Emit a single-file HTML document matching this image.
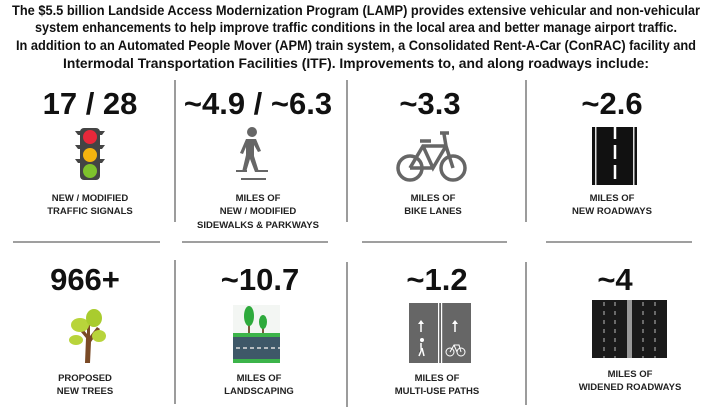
<!DOCTYPE html>
<html><head><meta charset="utf-8"><style>
html,body{margin:0;padding:0;background:#fff;width:710px;height:412px;overflow:hidden}
svg{display:block}
.h{font:bold 13.5px "Liberation Sans",sans-serif;fill:#111}
.n{font:bold 31px "Liberation Sans",sans-serif;fill:#111;text-anchor:middle}
.l{font:bold 9.5px "Liberation Sans",sans-serif;fill:#222;text-anchor:middle}
</style></head><body>
<svg width="710" height="412" viewBox="0 0 710 412">
<g class="h" text-anchor="middle">
<text x="356" y="15" textLength="688" lengthAdjust="spacingAndGlyphs">The $5.5 billion Landside Access Modernization Program (LAMP) provides extensive vehicular and non-vehicular</text>
<text x="356" y="32" textLength="642" lengthAdjust="spacingAndGlyphs">system enhancements to help improve traffic conditions in the local area and better manage airport traffic.</text>
<text x="356" y="50" textLength="680" lengthAdjust="spacingAndGlyphs">In addition to an Automated People Mover (APM) train system, a Consolidated Rent-A-Car (ConRAC) facility and</text>
<text x="356" y="68" textLength="586" lengthAdjust="spacingAndGlyphs">Intermodal Transportation Facilities (ITF). Improvements to, and along roadways include:</text>
</g>
<g stroke="#666" stroke-width="1.3">
<line x1="175" y1="80" x2="175" y2="222"/><line x1="347" y1="80" x2="347" y2="222"/><line x1="526" y1="80" x2="526" y2="222"/>
<line x1="175" y1="260" x2="175" y2="404"/><line x1="347" y1="262" x2="347" y2="407"/><line x1="526" y1="262" x2="526" y2="405"/>
<line x1="13" y1="242" x2="160" y2="242"/><line x1="182" y1="242" x2="328" y2="242"/><line x1="362" y1="242" x2="507" y2="242"/><line x1="546" y1="242" x2="692" y2="242"/>
</g>
<text class="n" x="90" y="114">17 / 28</text>
<text class="n" x="258" y="114">~4.9 / ~6.3</text>
<text class="n" x="430" y="114">~3.3</text>
<text class="n" x="612" y="114">~2.6</text>
<text class="n" x="85" y="290">966+</text>
<text class="n" x="260" y="290">~10.7</text>
<text class="n" x="437" y="290">~1.2</text>
<text class="n" x="615" y="290">~4</text>
<!-- traffic light -->
<g>
<path d="M75 131h30l-3 4h-24z M75 145h30l-3 4h-24z M75 159h30l-3 4h-24z" fill="#444"/>
<rect x="80" y="128" width="20" height="52" rx="4" fill="#444"/>
<circle cx="90" cy="137" r="7" fill="#e8283a"/><circle cx="90" cy="155" r="7" fill="#f5b40f"/><circle cx="90" cy="171" r="7" fill="#7ec22c"/></g>
<!-- pedestrian -->
<g fill="#666"><circle cx="252" cy="132" r="5"/>
<path d="M246 139h10l5 12-3 1-4-7 0 11 5 16h-4l-5-13-4 13h-4l4-17v-8l-3 7-3-1z"/>
<rect x="236" y="170" width="11" height="2"/><rect x="257" y="170" width="11" height="2"/><rect x="241" y="178" width="25" height="2"/></g>
<!-- bike -->
<g stroke="#666" stroke-width="3.5" fill="none"><circle cx="410" cy="168" r="12"/><circle cx="453" cy="168" r="12"/>
<path d="M410 168l13-22h23l7 22M423 146l10 22 13-22M433 168h-23M420 141h11M444 134l2 12M440 133h9"/></g>
<!-- road -->
<g><rect x="592" y="127" width="45" height="58" fill="#111"/>
<rect x="595" y="127" width="1.5" height="58" fill="#ddd"/><rect x="633" y="127" width="1.5" height="58" fill="#ddd"/>
<path d="M615 127v12M615 145v14M615 165v14" stroke="#fff" stroke-width="2.5"/></g>
<!-- tree -->
<g><path d="M85 363l1-25-10-12 3-2 8 10 0-10 3 0 0 12 7-9 3 2-9 13-1 21z" fill="#7a4a26"/>
<ellipse cx="80" cy="325" rx="9" ry="7" fill="#b8d43b"/><ellipse cx="94" cy="318" rx="8" ry="9" fill="#a9cc2e"/>
<ellipse cx="76" cy="340" rx="7" ry="5" fill="#b8d43b"/><ellipse cx="99" cy="336" rx="7" ry="6" fill="#b8d43b"/></g>
<!-- landscaping -->
<g><rect x="233" y="305" width="47" height="28" fill="#f3f6f3"/>
<rect x="248" y="315" width="2" height="20" fill="#7a5a3a"/><rect x="262" y="322" width="2" height="13" fill="#7a5a3a"/>
<ellipse cx="249" cy="316" rx="5" ry="10" fill="#2eaa3c"/><ellipse cx="263" cy="322" rx="4" ry="7" fill="#2eaa3c"/>
<rect x="233" y="333" width="47" height="4" fill="#3cb44a"/><rect x="233" y="337" width="47" height="22" fill="#3e5868"/>
<path d="M236 348h44" stroke="#ddd" stroke-width="1.5" stroke-dasharray="4 3"/><rect x="233" y="359" width="47" height="4" fill="#3cb44a"/></g>
<!-- multi-use -->
<g><rect x="409" y="303" width="62" height="60" fill="#666"/>
<rect x="438" y="303" width="1.2" height="60" fill="#fff"/><rect x="441" y="303" width="1.2" height="60" fill="#fff"/>
<path d="M421 332v-10M455 332v-10" stroke="#fff" stroke-width="1.5"/><path d="M418 324l3-4 3 4zM452 324l3-4 3 4z" fill="#fff"/>
<circle cx="422" cy="340" r="2" fill="#fff"/><path d="M421 343v8l-2 5M422 348l2 8" stroke="#fff" stroke-width="1.5"/>
<g stroke="#fff" stroke-width="1" fill="none"><circle cx="450" cy="352" r="4"/><circle cx="461" cy="352" r="4"/><path d="M450 352l4-7h5l2 7M454 345l3 7"/></g></g>
<!-- widened -->
<g><rect x="592" y="300" width="75" height="58" fill="#1a1a1a"/>
<rect x="627" y="300" width="5" height="58" fill="#999"/>
<g stroke="#bbb" stroke-width="1" stroke-dasharray="4 5"><path d="M604 302v56M615 302v56M643 302v56M655 302v56"/></g></g>
<g class="l">
<text x="90" y="201">NEW / MODIFIED</text><text x="90" y="214">TRAFFIC SIGNALS</text>
<text x="258" y="201">MILES OF</text><text x="258" y="214">NEW / MODIFIED</text><text x="258" y="228">SIDEWALKS &amp; PARKWAYS</text>
<text x="433" y="201">MILES OF</text><text x="433" y="214">BIKE LANES</text>
<text x="612" y="201">MILES OF</text><text x="612" y="214">NEW ROADWAYS</text>
<text x="85" y="381">PROPOSED</text><text x="85" y="394">NEW TREES</text>
<text x="259" y="381">MILES OF</text><text x="259" y="394">LANDSCAPING</text>
<text x="437" y="381">MILES OF</text><text x="437" y="394">MULTI-USE PATHS</text>
<text x="630" y="377">MILES OF</text><text x="630" y="390">WIDENED ROADWAYS</text>
</g>
</svg>
</body></html>
